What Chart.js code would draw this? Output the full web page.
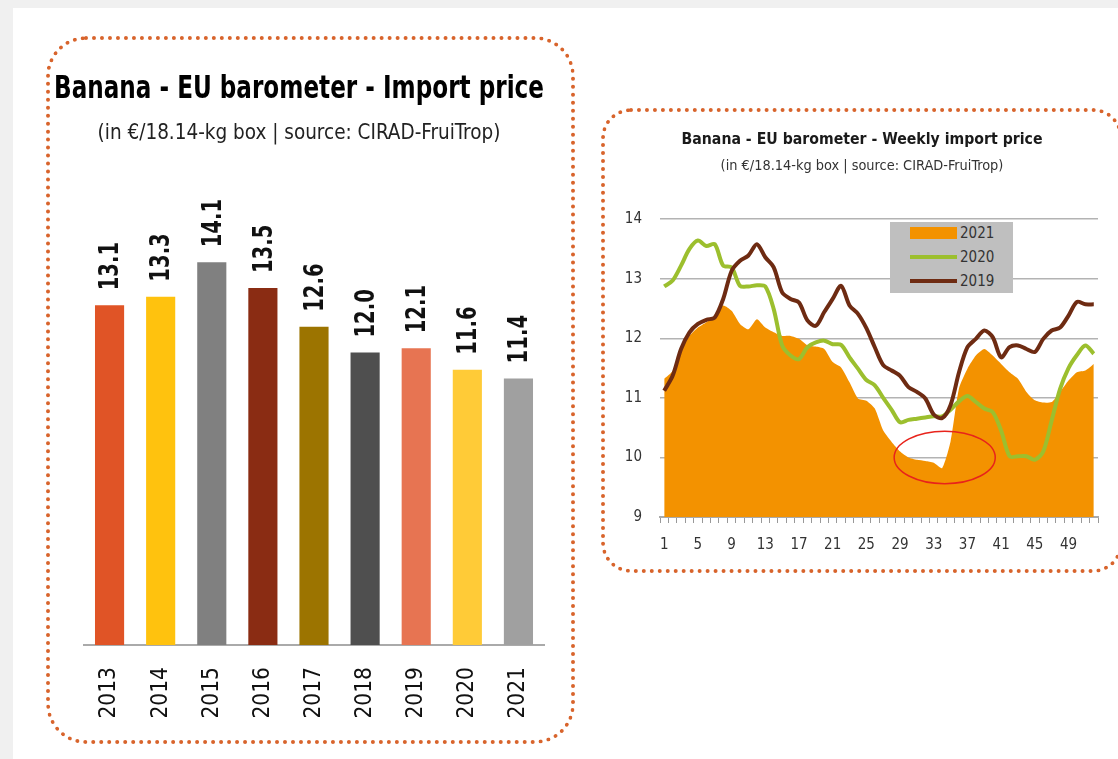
<!DOCTYPE html>
<html>
<head>
<meta charset="utf-8">
<script src="https://cdn.jsdelivr.net/npm/chart.js@4.4.1/dist/chart.umd.min.js"></script>
<style>
body { margin: 0; width: 1118px; height: 759px; background: #f0f0f0; position: relative; overflow: hidden; }
#sheet { position: absolute; left: 13px; top: 8px; right: 0; bottom: 0; background: #fff; }
.panel { position: absolute; box-sizing: border-box; border: 4px dotted #d8642c; }
#leftPanel { left: 46px; top: 36px; width: 529px; height: 708px; border-radius: 40px; }
#rightPanel { left: 601px; top: 108px; width: 522px; height: 465px; border-radius: 30px; }
canvas { position: absolute; }
#barChart { left: 50px; top: 40px; }
#weekChart { left: 604px; top: 113px; }
#legend { position: absolute; left: 890px; top: 222px; width: 123px; height: 71px; background: #bfbfbf;
  font-family: "Liberation Sans Narrow", "DejaVu Sans Condensed", sans-serif; font-size: 15px; color: #333; }
#legend .item { position: absolute; left: 20px; height: 20px; line-height: 20px; }
#legend .sw { position: absolute; left: 0; width: 47px; }
#legend .txt { position: absolute; left: 50px; }
</style>
</head>
<body>
<div id="sheet"></div>
<div class="panel" id="leftPanel"></div>
<div class="panel" id="rightPanel"></div>
<canvas id="barChart" width="522" height="700"></canvas>
<canvas id="weekChart" width="510" height="455"></canvas>
<div id="legend"></div>
<script>
// annual import price, in EUR per 18.14-kg box
var years = ['2013', '2014', '2015', '2016', '2017', '2018', '2019', '2020', '2021'];
var annualPrice = [13.1, 13.3, 14.1, 13.5, 12.6, 12.0, 12.1, 11.6, 11.4];
var barColors = ['#e05426', '#ffc20e', '#808080', '#8a2c13', '#9c7400', '#4f4f4f', '#e77452', '#ffcb37', '#a0a0a0'];

// weekly import price
var weeks = [1, 2, 3, 4, 5, 6, 7, 8, 9, 10, 11, 12, 13, 14, 15, 16, 17, 18, 19, 20, 21, 22, 23, 24, 25, 26,
    27, 28, 29, 30, 31, 32, 33, 34, 35, 36, 37, 38, 39, 40, 41, 42, 43, 44, 45, 46, 47, 48, 49, 50, 51, 52];
var price2021 = [11.32, 11.45, 11.82, 12.04, 12.18, 12.27, 12.38, 12.55, 12.46, 12.24, 12.15, 12.32, 12.18,
    12.10, 12.04, 12.04, 11.99, 11.88, 11.86, 11.82, 11.60, 11.51, 11.26, 10.99, 10.95, 10.82,
    10.45, 10.26, 10.10, 10.00, 9.96, 9.94, 9.91, 9.82, 10.27, 11.16, 11.49, 11.71, 11.82,
    11.71, 11.57, 11.43, 11.32, 11.10, 10.96, 10.92, 10.93, 11.10, 11.29, 11.43, 11.46, 11.57];
var price2020 = [12.87, 12.97, 13.22, 13.50, 13.64, 13.55, 13.58, 13.22, 13.19, 12.88, 12.87, 12.89, 12.87,
    12.49, 11.88, 11.71, 11.65, 11.85, 11.93, 11.96, 11.90, 11.89, 11.68, 11.49, 11.30, 11.21,
    11.00, 10.80, 10.59, 10.63, 10.65, 10.67, 10.69, 10.69, 10.80, 10.94, 11.03, 10.93, 10.82,
    10.76, 10.45, 10.02, 10.02, 10.02, 9.96, 10.10, 10.62, 11.15, 11.50, 11.72, 11.88, 11.74];
var price2019 = [11.12, 11.37, 11.82, 12.10, 12.24, 12.31, 12.35, 12.66, 13.13, 13.30, 13.39, 13.58, 13.36,
    13.19, 12.77, 12.66, 12.60, 12.30, 12.21, 12.44, 12.66, 12.88, 12.55, 12.41, 12.17, 11.85,
    11.55, 11.46, 11.37, 11.18, 11.10, 10.99, 10.72, 10.66, 10.88, 11.43, 11.85, 11.99, 12.13,
    12.02, 11.68, 11.85, 11.88, 11.82, 11.77, 11.99, 12.13, 12.18, 12.38, 12.61, 12.57, 12.57];

// red ring around the summer low of 2021
var ringWeek = 34.3;
var ringPrice = 10.0;

var FONT = '"Liberation Sans Narrow", "DejaVu Sans Condensed", sans-serif';
Chart.defaults.font.family = FONT;

// values written upright above each bar, squeezed a little like the original condensed face
var barLabels = {
    id: 'barLabels',
    afterDatasetsDraw: function(chart) {
        var ctx = chart.ctx;
        var meta = chart.getDatasetMeta(0);
        ctx.save();
        ctx.font = 'bold 26px ' + FONT;
        ctx.fillStyle = '#111';
        ctx.textAlign = 'left';
        ctx.textBaseline = 'middle';
        meta.data.forEach(function(bar, i) {
            ctx.save();
            ctx.translate(bar.x + 2, bar.y - 15);
            ctx.rotate(-Math.PI / 2);
            ctx.scale(0.84, 1);
            ctx.fillText(annualPrice[i].toFixed(1), 0, 0);
            ctx.restore();
        });
        ctx.restore();
    }
};

var ring = {
    id: 'ring',
    afterDatasetsDraw: function(chart) {
        var x = chart.scales.x, y = chart.scales.y;
        var cx = x.getPixelForValue(ringWeek - 1);
        var cy = y.getPixelForValue(ringPrice);
        var rx = x.getPixelForValue(ringWeek + 5) - cx;
        var ry = y.getPixelForValue(ringPrice - 0.44) - cy;
        var ctx = chart.ctx;
        ctx.save();
        ctx.strokeStyle = '#e8231b';
        ctx.lineWidth = 1.5;
        ctx.beginPath();
        ctx.ellipse(cx, cy, rx, ry, 0, 0, Math.PI * 2);
        ctx.stroke();
        ctx.restore();
    }
};

new Chart(document.getElementById('barChart'), {
    type: 'bar',
    data: {
        labels: years,
        datasets: [{
            data: annualPrice,
            backgroundColor: barColors,
            barPercentage: 0.57,
            categoryPercentage: 1
        }]
    },
    options: {
        responsive: false,
        animation: false,
        layout: { padding: { left: 4, right: 28, top: 0, bottom: 0 } },
        plugins: {
            legend: { display: false },
            tooltip: { enabled: false },
            title: {
                display: true,
                text: 'Banana - EU barometer - Import price',
                color: '#000',
                font: { size: 32.5, weight: 'bold' },
                padding: { top: 30, bottom: 4 }
            },
            subtitle: {
                display: true,
                text: '(in €/18.14-kg box | source: CIRAD-FruiTrop)',
                color: '#222',
                font: { size: 20.5 },
                padding: { top: 8, bottom: 35 }
            }
        },
        scales: {
            x: {
                grid: { display: false, drawTicks: false },
                border: { display: true, color: '#aaa', width: 2 },
                ticks: { minRotation: 90, maxRotation: 90, padding: 22, color: '#111', font: { size: 22.5 } },
                afterFit: function(scale) { scale.height = 95; }
            },
            y: {
                display: true,
                min: 5.2,
                max: 16,
                grid: { display: false, drawTicks: false },
                border: { display: false },
                ticks: { display: false },
                afterFit: function(scale) { scale.width = 30; }
            }
        }
    },
    plugins: [barLabels]
});

var weekChart = new Chart(document.getElementById('weekChart'), {
    type: 'line',
    data: {
        labels: weeks,
        datasets: [{
            label: '2021',
            data: price2021,
            fill: 'start',
            backgroundColor: '#f39200',
            borderColor: '#f39200',
            borderWidth: 0,
            pointRadius: 0,
            tension: 0.2,
            order: 3
        }, {
            label: '2020',
            data: price2020,
            fill: false,
            borderColor: '#9cbf2e',
            borderWidth: 4,
            pointRadius: 0,
            tension: 0.3,
            order: 2
        }, {
            label: '2019',
            data: price2019,
            fill: false,
            borderColor: '#6e2b12',
            borderWidth: 4,
            pointRadius: 0,
            tension: 0.3,
            order: 1
        }]
    },
    options: {
        responsive: false,
        animation: false,
        layout: { padding: { left: 22, right: 16, top: 0, bottom: 11 } },
        plugins: {
            legend: { display: false },
            tooltip: { enabled: false },
            title: {
                display: true,
                text: 'Banana - EU barometer - Weekly import price',
                color: '#1a1a1a',
                font: { size: 15.7, weight: 'bold' },
                padding: { top: 18, bottom: 4 }
            },
            subtitle: {
                display: true,
                text: '(in €/18.14-kg box | source: CIRAD-FruiTrop)',
                color: '#333',
                font: { size: 14.4 },
                padding: { top: 4, bottom: 44 }
            }
        },
        scales: {
            x: {
                offset: true,
                grid: { display: true, offset: true, drawOnChartArea: false, drawTicks: true, tickLength: 6, color: '#999' },
                border: { display: true, color: '#aaa', width: 2 },
                ticks: {
                    autoSkip: false,
                    maxRotation: 0,
                    padding: 13,
                    color: '#333',
                    font: { size: 15 },
                    callback: function(value, index) {
                        return index % 4 === 0 ? this.getLabelForValue(value) : '';
                    }
                },
                afterFit: function(scale) { scale.height = 40; }
            },
            y: {
                min: 9,
                max: 14,
                grid: { color: '#b3b3b3', lineWidth: 1.5, drawTicks: false },
                border: { display: false },
                ticks: { stepSize: 1, padding: 18, color: '#333', font: { size: 15 } },
                afterFit: function(scale) { scale.width = 34; }
            }
        }
    },
    plugins: [ring]
});

// legend box, filled from the datasets
var legendBox = document.getElementById('legend');
weekChart.data.datasets.forEach(function(ds, i) {
    var item = document.createElement('div');
    item.className = 'item';
    item.style.top = (1 + i * 24) + 'px';
    var sw = document.createElement('span');
    sw.className = 'sw';
    if (ds.fill) {
        sw.style.top = '4px';
        sw.style.height = '12px';
        sw.style.background = ds.backgroundColor;
    } else {
        sw.style.top = '8px';
        sw.style.height = '4px';
        sw.style.background = ds.borderColor;
    }
    var txt = document.createElement('span');
    txt.className = 'txt';
    txt.textContent = ds.label;
    item.appendChild(sw);
    item.appendChild(txt);
    legendBox.appendChild(item);
});
</script>
</body>
</html>
